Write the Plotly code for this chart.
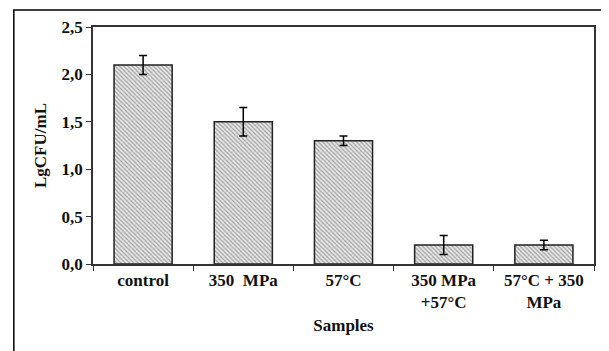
import plotly.graph_objects as go

categories = ["control", "350  MPa", "57°C", "350 MPa<br>+57°C", "57°C + 350<br>MPa"]
values = [2.1, 1.5, 1.3, 0.2, 0.2]
errors = [0.1, 0.15, 0.05, 0.1, 0.05]
y_ticks = [0.0, 0.5, 1.0, 1.5, 2.0, 2.5]
y_tick_labels = ["0,0", "0,5", "1,0", "1,5", "2,0", "2,5"]

font_family = "Liberation Serif, Times New Roman, serif"
fs = 17

fig = go.Figure()
fig.add_trace(go.Bar(
    x=categories,
    y=values,
    width=0.58,
    marker=dict(
        color="#d9d9d9",
        line=dict(color="#222222", width=1.5),
        pattern=dict(shape="\\", fgcolor="#555555", bgcolor="#e8e8e8", size=3, solidity=0.4),
    ),
    error_y=dict(type="data", array=errors, visible=True, color="black", thickness=1.5, width=4),
))

fig.update_layout(
    width=601, height=343,
    margin=dict(l=85, r=15, t=19, b=87),
    paper_bgcolor="white",
    plot_bgcolor="white",
    showlegend=False,
    font=dict(family=font_family, size=fs, color="#111111"),
    xaxis=dict(
        automargin=False,
        tickson="boundaries",
        ticks="outside", ticklen=5, tickcolor="#333333",
        showline=True, linecolor="#333333", linewidth=1.5, mirror=True,
        tickfont=dict(family=font_family, size=fs, color="#111111", weight="bold"),
        title=dict(text="<b>Samples</b>", font=dict(family=font_family, size=fs), standoff=8),
        showgrid=False,
    ),
    yaxis=dict(
        automargin=False,
        range=[0, 2.5],
        tickvals=y_ticks, ticktext=y_tick_labels,
        ticks="outside", ticklen=5, tickcolor="#333333",
        showline=True, linecolor="#333333", linewidth=1.5, mirror=True,
        tickfont=dict(family=font_family, size=fs, color="#111111", weight="bold"),
        title=dict(text="<b>LgCFU/mL</b>", font=dict(family=font_family, size=fs), standoff=11),
        showgrid=False, zeroline=False,
    ),
    shapes=[dict(
        type="rect", xref="paper", yref="paper",
        x0=-0.158, x1=1.2, y0=-0.6, y1=1.072,
        line=dict(color="black", width=1.5), fillcolor="rgba(0,0,0,0)", layer="below",
    )],
)

fig.write_html("out.html")
